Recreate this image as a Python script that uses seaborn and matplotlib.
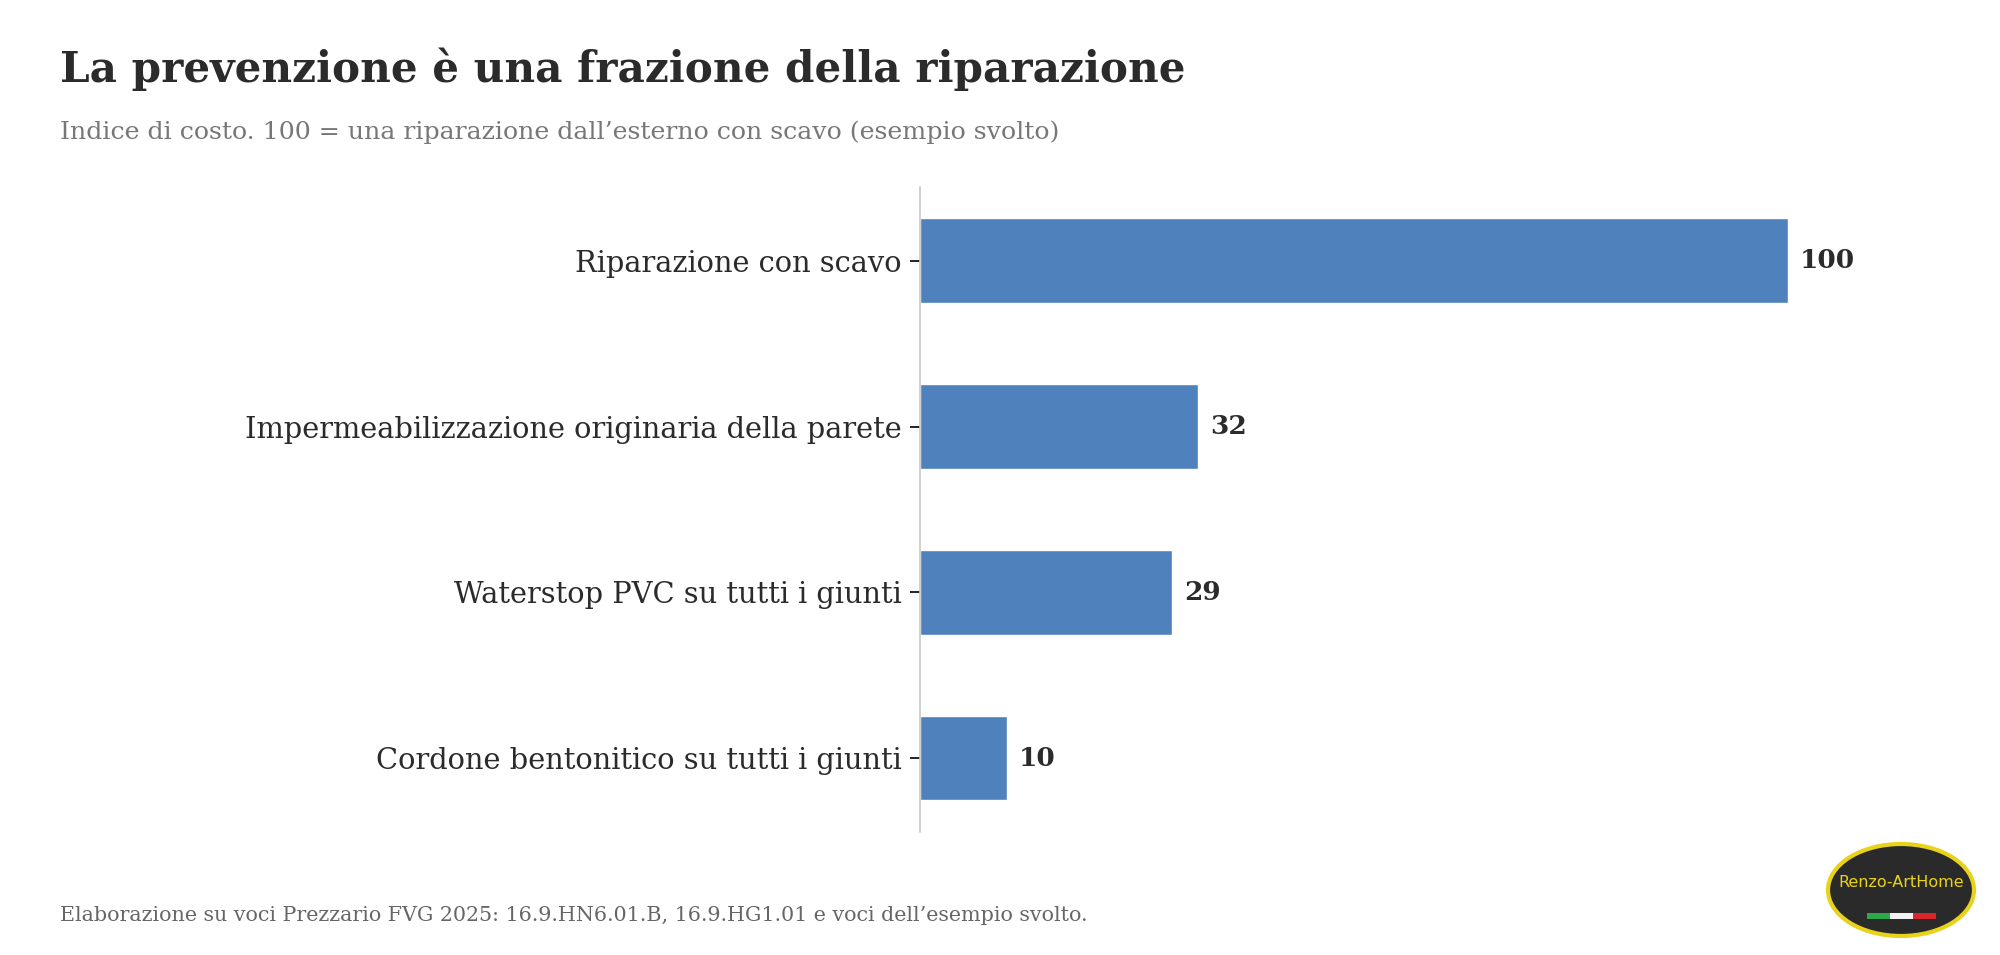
import matplotlib
matplotlib.use("Agg")
import matplotlib.pyplot as plt
import seaborn as sns
import pandas as pd
from matplotlib.patches import Ellipse, Rectangle

# Data
categories = [
    "Riparazione con scavo",
    "Impermeabilizzazione originaria della parete",
    "Waterstop PVC su tutti i giunti",
    "Cordone bentonitico su tutti i giunti",
]
values = [100, 32, 29, 10]

TITLE = "La prevenzione è una frazione della riparazione"
SUBTITLE = "Indice di costo. 100 = una riparazione dall\u2019esterno con scavo (esempio svolto)"
FOOTER = "Elaborazione su voci Prezzario FVG 2025: 16.9.HN6.01.B, 16.9.HG1.01 e voci dell\u2019esempio svolto."

BAR_COLOR = "#4f81bd"
TEXT_DARK = "#2b2b2b"

sns.set_theme(style="white")
plt.rcParams['font.family'] = ['DejaVu Serif']

df = pd.DataFrame({'categoria': categories, 'indice': values})

fig = plt.figure(figsize=(20, 9.55), dpi=100)
ax = fig.add_axes([0.46, 0.1288, 0.499, 0.6754])

sns.barplot(data=df, y='categoria', x='indice', orient='h', color=BAR_COLOR,
            width=0.51, saturation=1, ax=ax)

ax.set_xlim(0, 115)
ax.set_ylim(3.445, -0.445)
ax.set_xlabel('')
ax.set_ylabel('')
ax.set_xticks([])

for s in ['top', 'right', 'bottom']:
    ax.spines[s].set_visible(False)
ax.spines['left'].set_color('#c8c8c8')
ax.spines['left'].set_linewidth(1.2)

ax.tick_params(axis='y', length=7, width=1.3, color='#111111', pad=6,
               labelsize=20.8, labelcolor=TEXT_DARK, left=True)

# value labels
for i, v in enumerate(values):
    ax.text(v + 1.4, i, f"{v}", va='center', ha='left', fontsize=19,
            fontweight='bold', color=TEXT_DARK)

# titles
fig.text(0.03, 0.928, TITLE, fontsize=30.3, fontweight='bold', color=TEXT_DARK,
         va='center', ha='left')
fig.text(0.03, 0.862, SUBTITLE, fontsize=18.2, color='#777777', va='center', ha='left')
fig.text(0.03, 0.041, FOOTER, fontsize=14.9, color='#666666', va='center', ha='left')

# logo badge
lx, ly = 1901 / 2000, 1 - 890 / 955
w, h = 146 / 2000, 92 / 955
fig.patches.append(Ellipse((lx, ly), w, h, transform=fig.transFigure,
                           facecolor='#2a2a2a', edgecolor='#e8d21a', linewidth=3))
fig.text(lx, ly + 0.008, "Renzo-ArtHome", fontsize=11.5, color='#e8d21a',
         family='DejaVu Sans', ha='center', va='center')
sw = 0.0115
for k, c in enumerate(['#2aa84a', '#f2f2f2', '#d9262b']):
    fig.patches.append(Rectangle((lx - 1.5 * sw + k * sw, ly - 0.03), sw, 0.0055,
                                 transform=fig.transFigure, facecolor=c, edgecolor='none'))

fig.savefig("out.png", dpi=100)
